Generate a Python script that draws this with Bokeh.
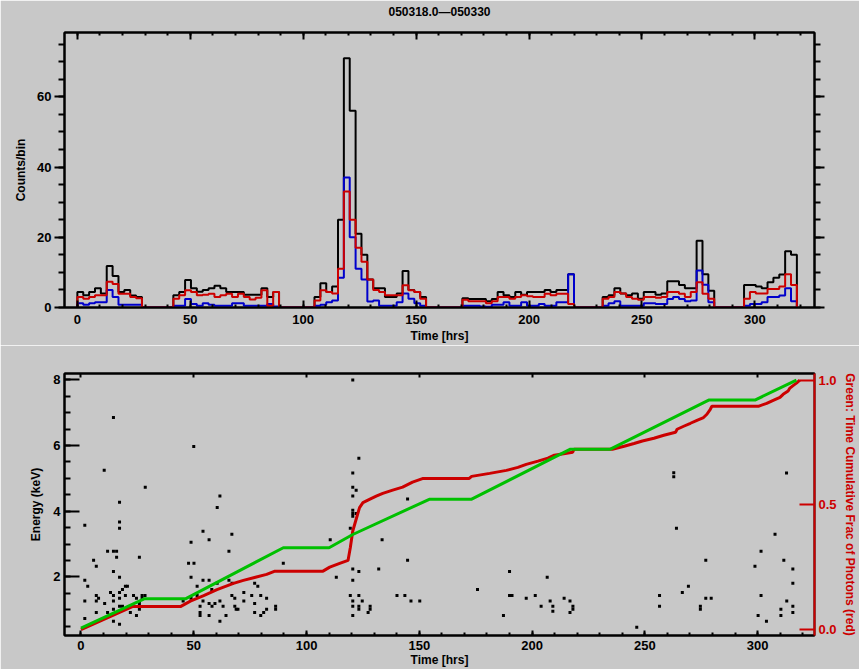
import numpy as np
from bokeh.plotting import figure
from bokeh.models import Range1d, LinearAxis, FixedTicker, CustomLabelingPolicy
from bokeh.layouts import column
from bokeh.embed import file_html
from bokeh.resources import INLINE

GRAY = "#c8c8c8"
RED = "#cc0000"
BLUE = "#0000cc"
GREEN = "#00c000"
FONT = "Liberation Sans"

TITLE = "050318.0\u2014050330"
X_LABEL = "Time [hrs]"
Y1_LABEL = "Counts/bin"
Y2_LABEL = "Energy (keV)"
Y3_LABEL = "Green: Time Cumulative Frac of Photons (red)"

# ---------------- top panel: binned light curves ----------------
BIN_WIDTH = 2.6  # hours
SEG_START = [0.0, 42.5, 105.0, 170.5, 232.6, 295.2]

TOTAL = [
    [4.4, 3.5, 4.4, 5.5, 4.0, 11.8, 9.0, 4.4, 5.0, 3.4, 3.0],
    [3.5, 4.4, 7.8, 5.5, 4.5, 5.0, 5.5, 6.2, 5.5, 4.4, 4.4, 4.4, 3.6, 3.6, 3.6, 5.5, 3.0, 4.4],
    [3.0, 6.9, 4.4, 6.0, 25.0, 71.0, 56.0, 21.0, 15.0, 8.0, 5.5, 5.5, 3.0, 3.0, 4.0, 10.4, 5.0, 4.4, 3.0],
    [2.6, 2.4, 2.4, 2.4, 1.8, 2.4, 4.4, 3.5, 3.0, 4.4, 3.6, 4.4, 4.4, 4.4, 5.0, 4.4, 5.0, 5.0, 9.5],
    [3.0, 3.5, 5.5, 4.0, 3.5, 4.0, 2.5, 4.4, 4.4, 3.6, 4.0, 7.5, 7.5, 6.4, 5.5, 5.5, 19.0, 9.5, 4.8],
    [6.4, 6.4, 6.0, 5.5, 7.2, 8.5, 9.4, 16.0, 15.0],
]
SOFT = [
    [3.0, 2.5, 3.0, 3.5, 3.5, 7.3, 6.7, 3.9, 3.9, 3.0, 2.6],
    [2.5, 3.5, 4.9, 4.4, 3.5, 3.6, 3.9, 3.0, 3.5, 3.9, 3.0, 3.9, 3.0, 2.3, 2.8, 4.9, 0.5, 4.4],
    [2.0, 4.9, 4.4, 4.0, 11.0, 33.0, 25.0, 17.0, 13.0, 8.0, 5.0, 4.4, 3.5, 3.5, 3.5, 6.3, 4.9, 4.4, 2.5],
    [2.2, 1.8, 1.8, 1.8, 1.2, 1.8, 3.0, 3.0, 2.5, 3.0, 3.5, 3.2, 3.0, 3.0, 3.9, 3.5, 3.9, 3.9, 1.0],
    [2.5, 3.0, 4.4, 4.0, 3.0, 2.5, 2.2, 3.0, 3.0, 2.8, 3.0, 4.4, 4.4, 3.9, 3.0, 4.4, 7.2, 3.9, 2.5],
    [2.5, 4.4, 4.0, 4.0, 5.3, 5.3, 6.0, 9.5, 6.4],
]
HARD = [
    [1.2, 0.8, 1.2, 1.5, 1.5, 5.0, 3.0, 0.8, 0.8, 0.8, 0.8],
    [0.5, 0.5, 2.4, 1.0, 0.5, 1.2, 0.8, 0.5, 0.5, 0.5, 1.2, 1.2, 0.5, 0.5, 0.5, 0.5, 1.0, 0.3],
    [0.5, 0.8, 1.5, 2.0, 8.5, 37.0, 20.0, 11.0, 8.0, 1.7, 2.0, 0.5, 0.5, 0.5, 1.5, 4.0, 2.5, 1.2, 0.5],
    [0.5, 0.5, 0.5, 0.3, 0.2, 0.8, 0.8, 1.5, 0.5, 0.5, 1.5, 0.5, 0.5, 1.0, 0.5, 0.5, 1.5, 1.5, 9.5],
    [0.5, 1.2, 1.8, 0.5, 0.5, 0.5, 0.5, 1.2, 1.2, 1.0, 1.0, 2.4, 3.0, 2.4, 1.8, 2.0, 10.5, 6.5, 1.5],
    [0.5, 1.0, 1.0, 1.5, 3.0, 3.0, 3.4, 5.5, 1.8],
]

# ---------------- bottom panel: events and cumulative curves ----------------
EVENTS = [
    (14.4, 6.85), (120.5, 7.99), (50.0, 5.97), (10.3, 5.25), (28.5, 4.73), (123.2, 5.61),
    (120.5, 5.16), (120.5, 4.73), (122.0, 4.64), (120.5, 4.46), (61.6, 4.46), (17.1, 4.27),
    (60.4, 4.11), (120.5, 4.03), (120.5, 3.93), (122.0, 3.93), (120.5, 3.85), (144.8, 4.37),
    (17.1, 3.67), (1.7, 3.57), (17.1, 3.48), (119.4, 3.48), (54.1, 3.39), (66.9, 3.30),
    (56.8, 3.13), (110.5, 3.13), (133.5, 3.13), (48.8, 3.06), (11.8, 2.78), (14.4, 2.78),
    (15.8, 2.78), (65.6, 2.78), (25.9, 2.60), (15.8, 2.60), (5.6, 2.51), (144.8, 2.51),
    (6.8, 2.33), (47.7, 2.42), (50.1, 2.42), (89.7, 2.42), (14.4, 2.17), (120.5, 2.24),
    (123.2, 2.17), (132.0, 2.24), (17.1, 1.99), (48.8, 1.99), (113.2, 1.99), (1.7, 1.90),
    (54.1, 1.90), (56.8, 1.90), (65.6, 1.90), (77.0, 1.81), (67.0, 1.81), (120.5, 1.90),
    (3.0, 1.72), (60.4, 1.81), (19.7, 1.72), (20.6, 1.72), (18.4, 1.62), (51.5, 1.72),
    (58.0, 1.62), (78.4, 1.72), (13.1, 1.53), (17.1, 1.53), (72.2, 1.53), (6.8, 1.44),
    (14.4, 1.44), (19.7, 1.44), (23.3, 1.44), (27.1, 1.44), (28.4, 1.44), (51.5, 1.44),
    (66.9, 1.44), (75.7, 1.44), (79.7, 1.44), (119.4, 1.44), (123.2, 1.44), (140.1, 1.44),
    (143.6, 1.44), (7.8, 1.35), (17.1, 1.35), (24.6, 1.35), (27.1, 1.35), (48.8, 1.35),
    (68.2, 1.35), (82.3, 1.35), (1.7, 1.27), (6.8, 1.27), (14.4, 1.27), (45.3, 1.27),
    (54.1, 1.27), (61.6, 1.27), (72.2, 1.27), (120.5, 1.27), (124.7, 1.27), (146.3, 1.27),
    (150.2, 1.27), (10.5, 1.19), (25.9, 1.19), (56.8, 1.19), (59.4, 1.19), (77.0, 1.19),
    (17.1, 1.11), (18.4, 1.11), (52.8, 1.11), (58.1, 1.11), (63.0, 1.11), (68.2, 1.11),
    (68.8, 1.02), (69.6, 1.02), (86.3, 1.11), (86.3, 1.02), (120.5, 1.11), (123.2, 1.11),
    (123.2, 1.02), (128.2, 1.11), (128.2, 1.02), (14.4, 1.02), (25.9, 1.02), (82.3, 1.02),
    (11.8, 0.92), (21.9, 0.92), (6.8, 0.92), (52.8, 0.92), (52.8, 0.83), (56.8, 0.83),
    (64.3, 0.83), (77.0, 0.92), (81.0, 0.92), (127.3, 0.92), (24.6, 0.83), (79.7, 0.83),
    (120.5, 0.83), (1.7, 0.74), (14.4, 0.65), (61.6, 0.65), (17.1, 0.56),
    (262.8, 5.17), (262.8, 5.05), (312.8, 5.16), (264.0, 3.48), (307.7, 3.30), (301.5, 2.78),
    (277.0, 2.51), (311.6, 2.51), (298.8, 2.33), (315.6, 2.24), (190.0, 2.17), (206.7, 1.99),
    (315.6, 1.81), (269.3, 1.72), (175.8, 1.62), (266.6, 1.53), (190.0, 1.44), (191.1, 1.44),
    (201.4, 1.44), (256.5, 1.44), (301.5, 1.44), (197.4, 1.35), (214.2, 1.35), (277.0, 1.35),
    (279.4, 1.35), (208.0, 1.27), (216.8, 1.27), (312.9, 1.27), (204.0, 1.11), (209.2, 1.11),
    (209.2, 0.96), (218.1, 1.11), (218.1, 1.02), (256.5, 1.11), (274.6, 1.11), (274.6, 1.02),
    (315.6, 1.11), (310.3, 1.02), (216.8, 0.92), (315.6, 0.92), (187.3, 0.83), (300.2, 0.83),
    (310.3, 0.83), (303.9, 0.65), (246.4, 0.47),
]

EXPO_T = [0.0, 28.0, 46.3, 89.7, 110.0, 120.5, 154.4, 173.0, 217.0, 234.7, 278.3, 298.8, 317.2]
EXPO_F = [0.006, 0.123, 0.123, 0.328, 0.328, 0.381, 0.522, 0.522, 0.723, 0.723, 0.920, 0.920, 1.0]

PHOT_T = [0.0, 22.8, 44.1, 48.5, 54.4, 60.3, 67.6, 72.0, 82.3, 86.0,
          107.3, 110.3, 114.7, 118.4, 119.4, 120.5, 122.0, 123.5, 125.0, 127.9,
          130.9, 133.8, 138.2, 142.6, 147.0, 151.4, 172.0, 173.2, 181.2, 188.6,
          193.7, 197.4, 202.6, 207.0, 209.9, 218.0, 218.6, 235.6, 240.8,
          245.2, 248.9, 254.0, 258.4, 263.6, 264.3, 267.2, 270.2, 273.1, 276.0,
          277.5, 279.0, 279.7, 300.3, 304.0, 306.9, 309.9, 311.3, 313.5, 314.3,
          315.7, 317.2, 318.7]
PHOT_F = [0.0, 0.092, 0.092, 0.114, 0.136, 0.160, 0.185, 0.197, 0.221, 0.234,
          0.234, 0.250, 0.265, 0.277, 0.328, 0.395, 0.442, 0.489, 0.509, 0.522,
          0.535, 0.546, 0.559, 0.571, 0.591, 0.605, 0.605, 0.614, 0.626, 0.638,
          0.650, 0.662, 0.675, 0.687, 0.699, 0.711, 0.723, 0.723, 0.735,
          0.746, 0.756, 0.767, 0.779, 0.791, 0.803, 0.815, 0.827, 0.839, 0.850,
          0.863, 0.883, 0.895, 0.895, 0.907, 0.919, 0.931, 0.943, 0.956, 0.968,
          0.978, 0.988, 1.0]

X_MAJOR = [0, 50, 100, 150, 200, 250, 300]
X_MINOR = list(np.arange(0, 330, 10))
Y1_MAJOR = [0, 20, 40, 60]
Y1_MINOR = list(np.arange(0, 80, 5))
Y2_MAJOR = [2, 4, 6, 8]
Y2_MINOR = list(np.arange(0.5, 8.3, 0.5))
Y3_MAJOR = [0.0, 0.5, 1.0]


def hist_path(starts, segs, width):
    xs, ys = [starts[0]], [0.0]
    for s, c in zip(starts, segs):
        for j, v in enumerate(c):
            xs.append(s + j * width)
            ys.append(v)
        xs.append(s + len(c) * width)
        ys.append(0.0)
    return xs, ys


def style_axis(ax, size="13px"):
    ax.axis_line_width = 2
    ax.axis_line_color = "black"
    ax.major_tick_line_width = 2
    ax.minor_tick_line_width = 2
    ax.major_tick_line_color = "black"
    ax.minor_tick_line_color = "black"
    ax.major_label_text_font = FONT
    ax.major_label_text_font_size = size
    ax.major_label_text_font_style = "bold"
    ax.major_label_text_color = "black"
    ax.axis_label_text_font = FONT
    ax.axis_label_text_font_size = "12px"
    ax.axis_label_text_font_style = "bold"
    ax.axis_label_text_color = "black"


NO_LABELS = CustomLabelingPolicy(code="""
const all = [...indices]
for (const i of all) indices.unset(i)
return indices
""")


def blank_axis(ax):
    ax.major_label_policy = NO_LABELS
    ax.major_label_standoff = 0
    ax.axis_label = None


W = 859
H1, H2 = 345, 324
p1 = figure(width=W, height=H1, x_range=Range1d(-5.7, 326.4), y_range=Range1d(0, 78.3),
            output_backend="svg", toolbar_location=None,
            min_border_left=64, min_border_right=41, min_border_top=27, min_border_bottom=33,
            background_fill_color=GRAY, border_fill_color=GRAY,
            outline_line_color="black", outline_line_width=2)
p1.grid.visible = False
p1.title.text = TITLE
p1.title.align = "center"
p1.title.text_font = FONT
p1.title.text_font_size = "12px"
p1.title.text_font_style = "bold"
p1.title.text_color = "black"
p1.title.standoff = 4

xa = p1.xaxis[0]
style_axis(xa)
xa.ticker = FixedTicker(ticks=X_MAJOR, minor_ticks=X_MINOR)
xa.major_tick_in, xa.major_tick_out = 7, 0
xa.minor_tick_in, xa.minor_tick_out = 3, 0
xa.major_label_standoff = 7
xa.axis_label = X_LABEL
xa.axis_label_standoff = 2

ya = p1.yaxis[0]
style_axis(ya)
ya.ticker = FixedTicker(ticks=Y1_MAJOR, minor_ticks=Y1_MINOR)
ya.major_tick_in, ya.major_tick_out = 0, 10
ya.minor_tick_in, ya.minor_tick_out = 0, 6
ya.major_label_standoff = 3
ya.axis_label = Y1_LABEL
ya.axis_label_standoff = 6

top_ax = LinearAxis(ticker=FixedTicker(ticks=X_MAJOR, minor_ticks=X_MINOR))
style_axis(top_ax)
blank_axis(top_ax)
top_ax.major_tick_in, top_ax.major_tick_out = 7, 0
top_ax.minor_tick_in, top_ax.minor_tick_out = 3, 0
p1.add_layout(top_ax, "above")

right_ax = LinearAxis(ticker=FixedTicker(ticks=Y1_MAJOR, minor_ticks=Y1_MINOR))
style_axis(right_ax)
blank_axis(right_ax)
right_ax.major_tick_in, right_ax.major_tick_out = 0, 10
right_ax.minor_tick_in, right_ax.minor_tick_out = 0, 6
p1.add_layout(right_ax, "right")

for series, col in ((TOTAL, "black"), (HARD, BLUE), (SOFT, RED)):
    hx, hy = hist_path(SEG_START, series, BIN_WIDTH)
    p1.step(hx, hy, mode="after", line_color=col, line_width=2)

# ---------------- bottom figure ----------------
p2 = figure(width=W, height=H2, x_range=Range1d(-7.3, 325.2), y_range=Range1d(0.22, 8.19),
            output_backend="svg", toolbar_location=None,
            min_border_left=64, min_border_right=41, min_border_top=28, min_border_bottom=34,
            background_fill_color=GRAY, border_fill_color=GRAY,
            outline_line_color="black", outline_line_width=2)
p2.grid.visible = False
p2.extra_y_ranges = {"frac": Range1d(-0.024, 1.0265)}

bx = p2.xaxis[0]
style_axis(bx)
bx.ticker = FixedTicker(ticks=X_MAJOR, minor_ticks=X_MINOR)
bx.major_tick_in, bx.major_tick_out = 5, 0
bx.minor_tick_in, bx.minor_tick_out = 3, 0
bx.major_label_standoff = 5
bx.axis_label = X_LABEL
bx.axis_label_standoff = 0

by = p2.yaxis[0]
style_axis(by)
by.ticker = FixedTicker(ticks=Y2_MAJOR, minor_ticks=Y2_MINOR)
by.major_tick_in, by.major_tick_out = 15, 0
by.minor_tick_in, by.minor_tick_out = 6, 0
by.major_label_standoff = 4
by.axis_label = Y2_LABEL
by.axis_label_standoff = 7

top2 = LinearAxis(ticker=FixedTicker(ticks=X_MAJOR, minor_ticks=[]))
style_axis(top2)
blank_axis(top2)
top2.major_tick_in, top2.major_tick_out = 4, 0
p2.add_layout(top2, "above")

fr = LinearAxis(y_range_name="frac", ticker=FixedTicker(ticks=Y3_MAJOR, minor_ticks=[]))
style_axis(fr)
fr.axis_line_color = RED
fr.major_tick_line_color = RED
fr.major_label_text_color = RED
fr.axis_label_text_color = RED
fr.axis_label_text_font_size = "12px"
fr.major_tick_in, fr.major_tick_out = 15, 0
fr.major_label_standoff = 4
fr.major_label_overrides = {0.0: "0.0", 0.5: "0.5", 1.0: "1.0"}
fr.axis_label = Y3_LABEL
fr.axis_label_standoff = 3
p2.add_layout(fr, "right")

ev_t = [e[0] for e in EVENTS]
ev_e = [e[1] for e in EVENTS]
p2.scatter(ev_t, ev_e, marker="square", size=3, fill_color="black", line_color=None)
p2.line(PHOT_T, PHOT_F, y_range_name="frac", line_color=RED, line_width=3)
p2.line(EXPO_T, EXPO_F, y_range_name="frac", line_color=GREEN, line_width=3)

layout = column(p1, p2, spacing=0)
p = layout
open("out.html", "w").write(file_html(p, INLINE))
